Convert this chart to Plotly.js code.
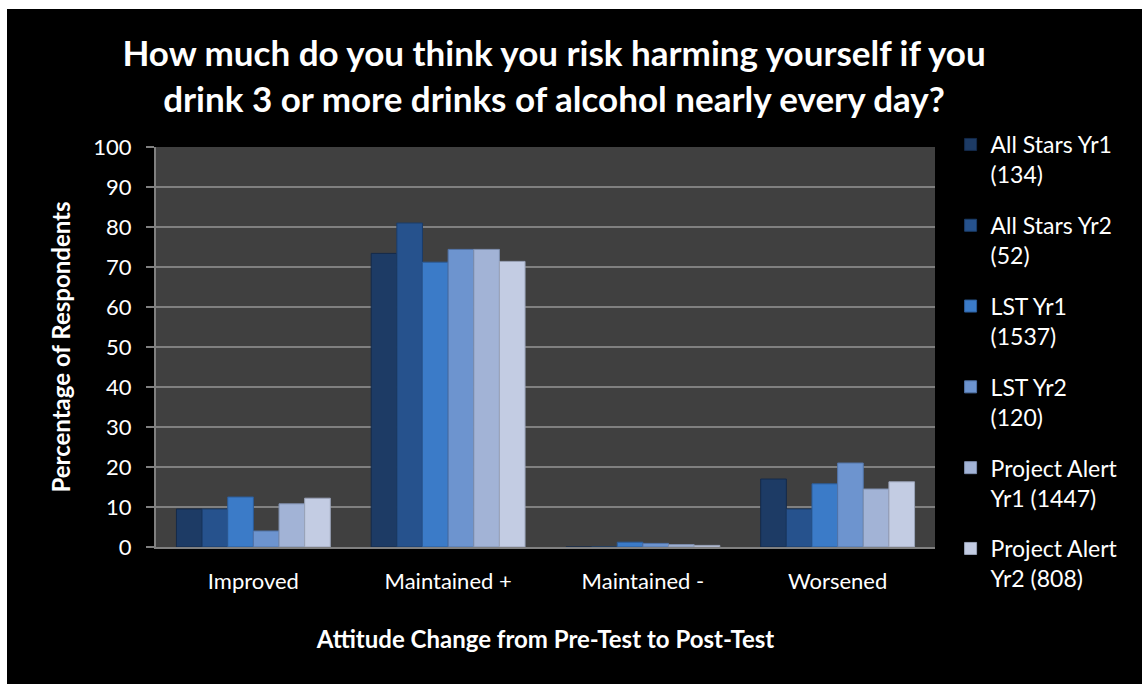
<!DOCTYPE html>
<html>
<head>
<meta charset="utf-8">
<script src="https://cdn.plot.ly/plotly-3.0.1.min.js"></script>
<style>
html,body{margin:0;padding:0;background:#ffffff;}
#chart{position:absolute;left:7px;top:9px;width:1135px;height:675px;}
</style>
</head>
<body>
<div id="chart"></div>
<script>
const categories = ["Improved", "Maintained +", "Maintained -", "Worsened"];
const seriesNames = ["All Stars Yr1<br>(134)", "All Stars Yr2<br>(52)", "LST Yr1<br>(1537)", "LST Yr2<br>(120)", "Project Alert<br>Yr1 (1447)", "Project Alert<br>Yr2 (808)"];
const allStarsYr1 = [9.5, 73.4, 0, 17.0];
const allStarsYr2 = [9.5, 81.0, 0, 9.5];
const lstYr1 = [12.5, 71.2, 1.2, 15.8];
const lstYr2 = [4.0, 74.4, 0.9, 21.0];
const projectAlertYr1 = [10.8, 74.4, 0.6, 14.5];
const projectAlertYr2 = [12.2, 71.4, 0.4, 16.3];
const seriesValues = [allStarsYr1, allStarsYr2, lstYr1, lstYr2, projectAlertYr1, projectAlertYr2];
const colors = ["#1d3b65", "#26528d", "#3b7bc8", "#6d94cf", "#a2b3d6", "#c3cce3"];
const lineColors = ["#142a4a", "#1b3c68", "#2c5c98", "#5274a8", "#7f8fae", "#9aa3b8"];

const FONT = "Lato, 'Open Sans', sans-serif";

const traces = seriesValues.map((vals, i) => ({
  type: "bar",
  x: categories,
  y: vals,
  name: seriesNames[i],
  legendgroup: "g" + i,
  marker: {color: colors[i], line: {color: lineColors[i], width: 1}},
  hoverinfo: "x+y+name"
}));

const layout = {
  width: 1135,
  height: 675,
  paper_bgcolor: "#000000",
  plot_bgcolor: "#404040",
  margin: {l: 149, r: 207, t: 138, b: 137},
  font: {family: FONT, color: "#ffffff", size: 22},
  title: {
    text: "<b>How much do you think you risk harming yourself if you<br>drink 3 or more drinks of alcohol nearly every day?</b>",
    font: {family: FONT, size: 35, color: "#ffffff"},
    x: 0.482, xanchor: "center",
    y: 0.915, yanchor: "top"
  },
  barmode: "group",
  bargap: 0.21,
  bargroupgap: 0,
  xaxis: {
    showgrid: false,
    showline: true,
    linecolor: "#808080",
    linewidth: 2,
    ticks: "",
    tickfont: {family: FONT, size: 22, color: "#ffffff"},
    ticklabelstandoff: 14,
    title: {
      text: "<b>Attitude Change from Pre-Test to Post-Test</b>",
      font: {family: FONT, size: 24, color: "#ffffff"},
      standoff: 38
    }
  },
  yaxis: {
    range: [0, 100],
    dtick: 10,
    showgrid: true,
    gridcolor: "#808080",
    gridwidth: 2,
    showline: true,
    linecolor: "#808080",
    linewidth: 2,
    ticks: "outside",
    ticklen: 8,
    tickwidth: 2,
    tickcolor: "#808080",
    zeroline: false,
    tickfont: {family: FONT, size: 22, color: "#ffffff"},
    ticklabelstandoff: 10,
    title: {
      text: "<b>Percentage of Respondents</b>",
      font: {family: FONT, size: 24, color: "#ffffff"},
      standoff: 16
    }
  },
  legend: {
    x: 1.02, xanchor: "left",
    y: 1.06, yanchor: "top",
    font: {family: FONT, size: 23, color: "#ffffff"},
    bgcolor: "rgba(0,0,0,0)",
    traceorder: "grouped",
    tracegroupgap: 18,
    itemwidth: 30,
    valign: "top",
    maxheight: 640
  },
  showlegend: true
};

Plotly.newPlot("chart", traces, layout, {displayModeBar: false});
</script>
</body>
</html>
